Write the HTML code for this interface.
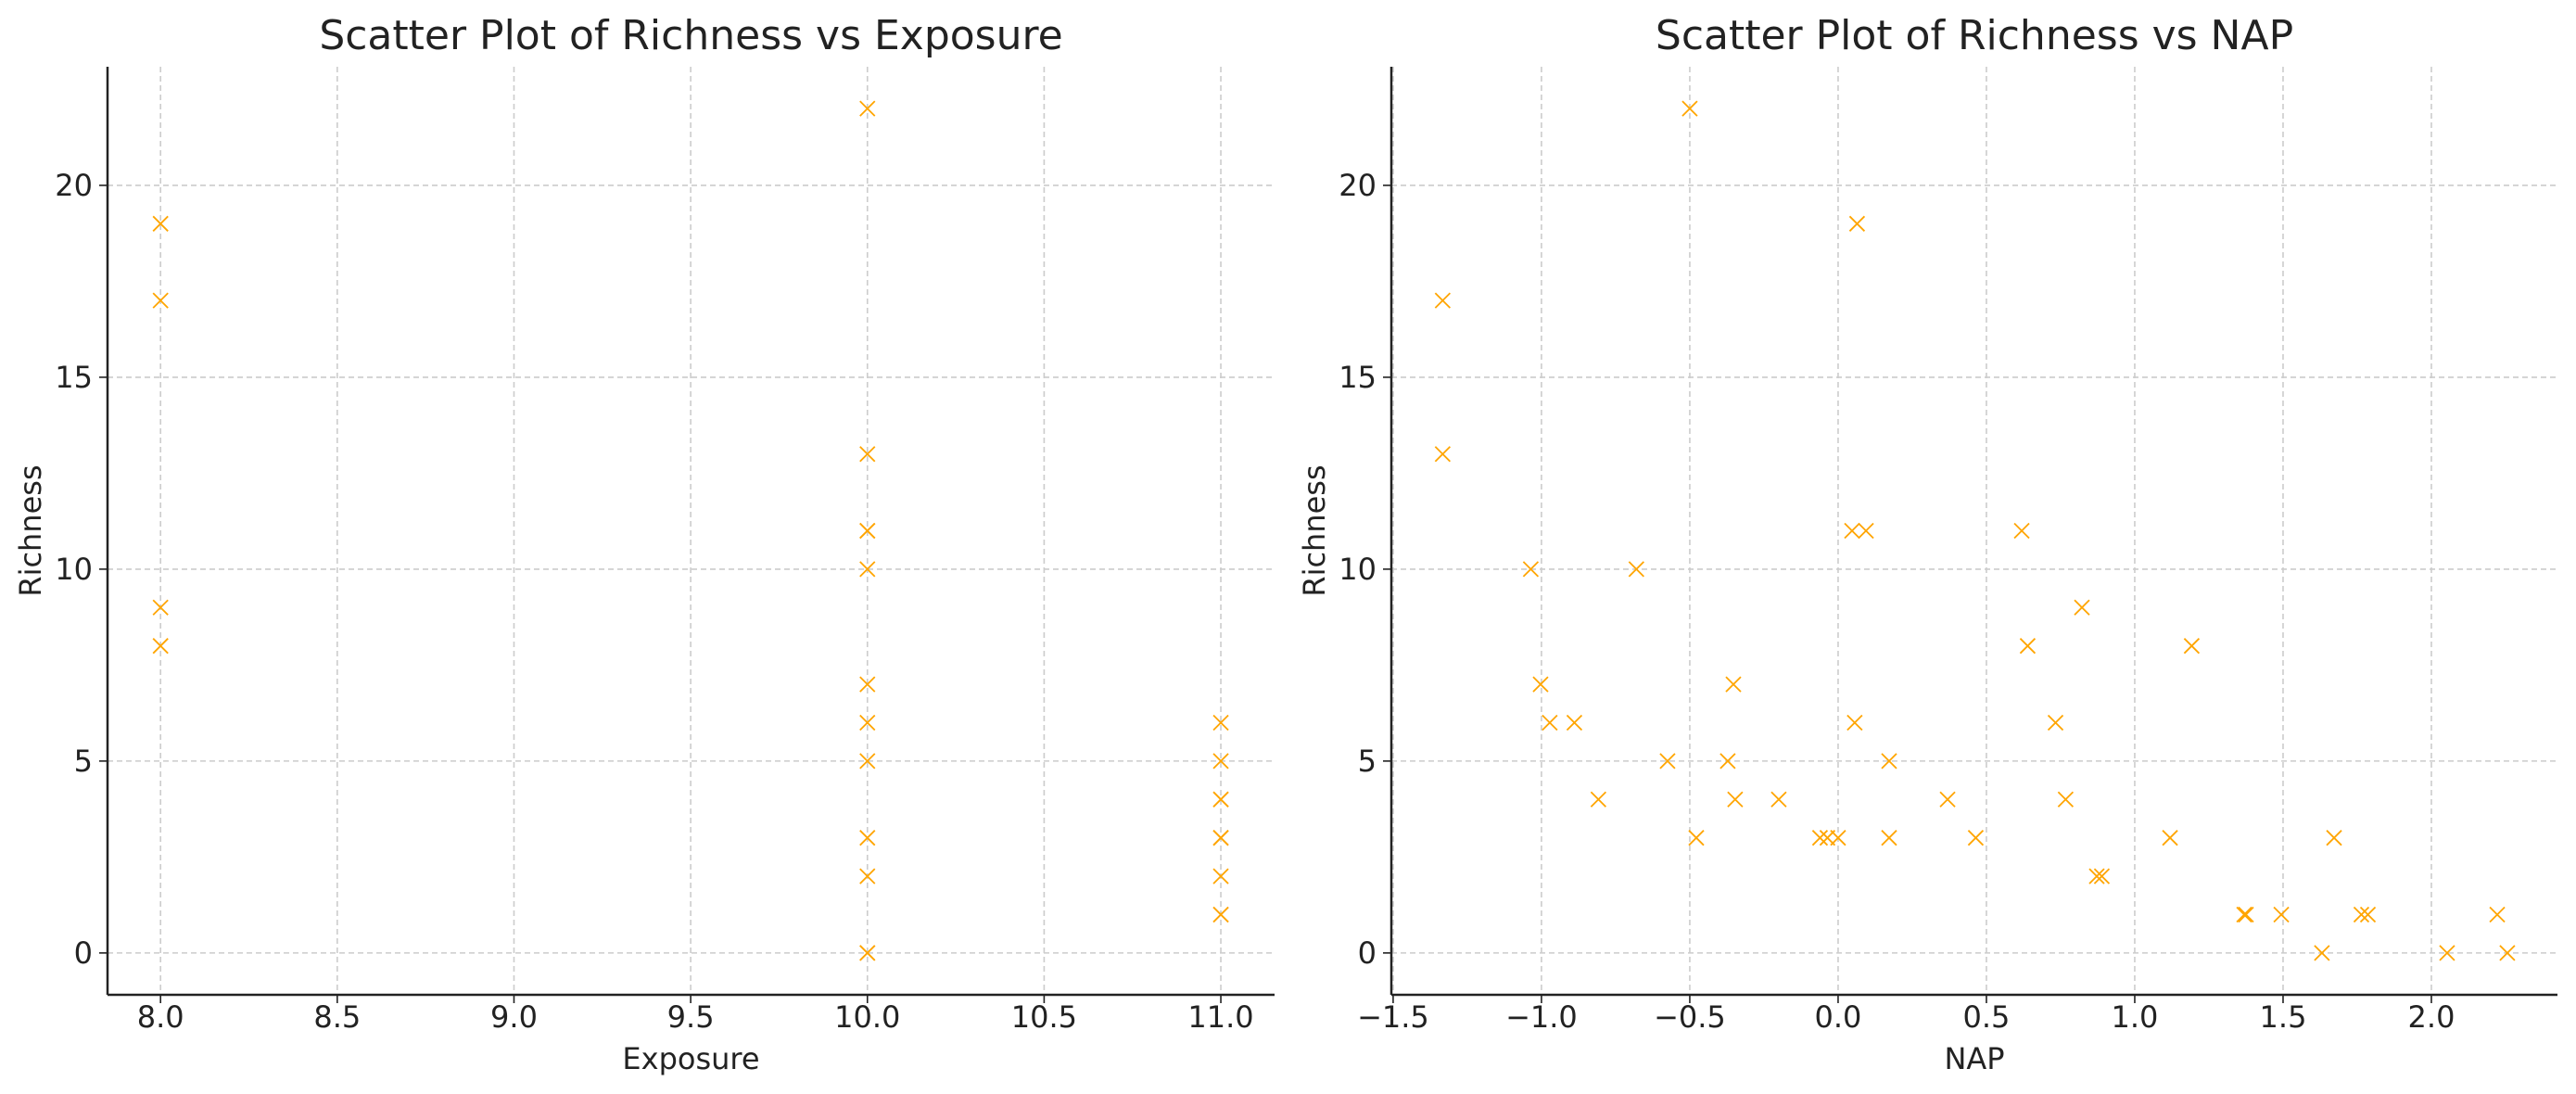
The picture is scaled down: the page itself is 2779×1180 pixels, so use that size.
<!DOCTYPE html>
<html><head><meta charset="utf-8"><style>
html,body{margin:0;padding:0;background:#fff}
svg{display:block}
text{font-family:"DejaVu Sans","Liberation Sans",sans-serif;fill:#222}
</style></head><body>
<svg id="chart" width="2779" height="1180" viewBox="0 0 2779 1180" xmlns="http://www.w3.org/2000/svg"></svg>
<script>
const exposureX=[8,8,8,8,10,10,10,10,10,10,10,10,10,10,10,10,11,11,11,11,11,11,11,11,11];
const exposureRich=[19,17,9,8,22,13,11,11,10,7,6,5,3,2,0,0,6,5,4,4,3,3,2,1,1];
const napX=[-1.333,-1.333,-0.5,0.064,-1.036,-0.68,-1.003,-0.972,-0.889,-0.575,-0.808,-0.478,-0.353,-0.372,-0.347,-0.2,-0.061,-0.036,0,0.047,0.094,0.056,0.172,0.172,0.369,0.464,0.619,0.639,0.822,0.733,0.767,0.872,0.889,1.119,1.192,1.369,1.375,1.494,1.631,1.672,1.764,1.786,2.053,2.222,2.256];
const napRich=[17,13,22,19,10,10,7,6,6,5,4,3,7,5,4,4,3,3,3,11,11,6,5,3,4,3,11,8,9,6,4,2,2,3,8,1,1,1,0,3,1,1,0,1,0];
const exposureTicks=[8.0,8.5,9.0,9.5,10.0,10.5,11.0];
const napTicks=[-1.5,-1.0,-0.5,0.0,0.5,1.0,1.5,2.0];
const yTicks=[0,5,10,15,20];

const NS="http://www.w3.org/2000/svg";
const svg=document.getElementById('chart');
function mk(tag,attrs,parent){const e=document.createElementNS(NS,tag);for(const k in attrs)e.setAttribute(k,attrs[k]);(parent||svg).appendChild(e);return e;}
function fmt(v){return (v<0?"\u2212":"")+Math.abs(v).toFixed(1);}

function panel(cfg){
  const g=mk('g',{});
  
  
  const L=cfg.left,R=cfg.right,T=72,B=1073;
  const ymin=-1.09,ymax=23.09;
  const sx=v=>L+(v-cfg.xmin)/(cfg.xmax-cfg.xmin)*(R-L);
  const sy=v=>B-(v-ymin)/(ymax-ymin)*(B-T);
  cfg.xticks.forEach(t=>{
    const x=sx(t);
    const gl=mk('line',{x1:x,x2:x,y1:T,y2:B,stroke:'#cccccc','stroke-width':1.6,'stroke-dasharray':'6,4'},g);
    
    mk('line',{x1:x,x2:x,y1:B,y2:B+9,stroke:'#222','stroke-width':1.6},g);
    const tx=mk('text',{x:x,y:1108,'font-size':32,'text-anchor':'middle'},g);
    tx.textContent=fmt(t);
    
  });
  yTicks.forEach(t=>{
    const y=sy(t);
    const gl=mk('line',{x1:L,x2:R,y1:y,y2:y,stroke:'#cccccc','stroke-width':1.6,'stroke-dasharray':'6,4'},g);
    
    mk('line',{x1:L-9,x2:L,y1:y,y2:y,stroke:'#222','stroke-width':1.6},g);
    const tx=mk('text',{x:L-16,y:y+11,'font-size':32,'text-anchor':'end'},g);
    tx.textContent=String(t);
    
  });
  cfg.xs.forEach((v,i)=>{
    const x=sx(v),y=sy(cfg.ys[i]),s=8;
    const p=mk('path',{d:`M${x-s},${y-s}L${x+s},${y+s}M${x-s},${y+s}L${x+s},${y-s}`,stroke:'#FFA500','stroke-width':1.8,fill:'none'},g);
    
  });
  mk('line',{x1:L,x2:L,y1:T,y2:B,stroke:'#222','stroke-width':2.5},g);
  mk('line',{x1:L,x2:R,y1:B,y2:B,stroke:'#222','stroke-width':2.5},g);
  const ti=mk('text',{x:(L+R)/2,y:53,'font-size':44,'text-anchor':'middle',fill:'#333'},g);
  ti.textContent=cfg.title;
  const xl=mk('text',{x:(L+R)/2,y:1153,'font-size':32,'text-anchor':'middle'},g);
  xl.textContent=cfg.xlabel;
  const yl=mk('text',{x:0,y:0,'font-size':32,'text-anchor':'middle',transform:`translate(${L-72},${(T+B)/2}) rotate(-90)`},g);
  yl.textContent='Richness';
}
panel({name:'exposure-panel',left:116,right:1375,xmin:7.85,xmax:11.152,xticks:exposureTicks,xs:exposureX,ys:exposureRich,title:'Scatter Plot of Richness vs Exposure',xlabel:'Exposure'});
panel({name:'nap-panel',left:1501,right:2759,xmin:-1.506,xmax:2.425,xticks:napTicks,xs:napX,ys:napRich,title:'Scatter Plot of Richness vs NAP',xlabel:'NAP'});
</script>
</body></html>
